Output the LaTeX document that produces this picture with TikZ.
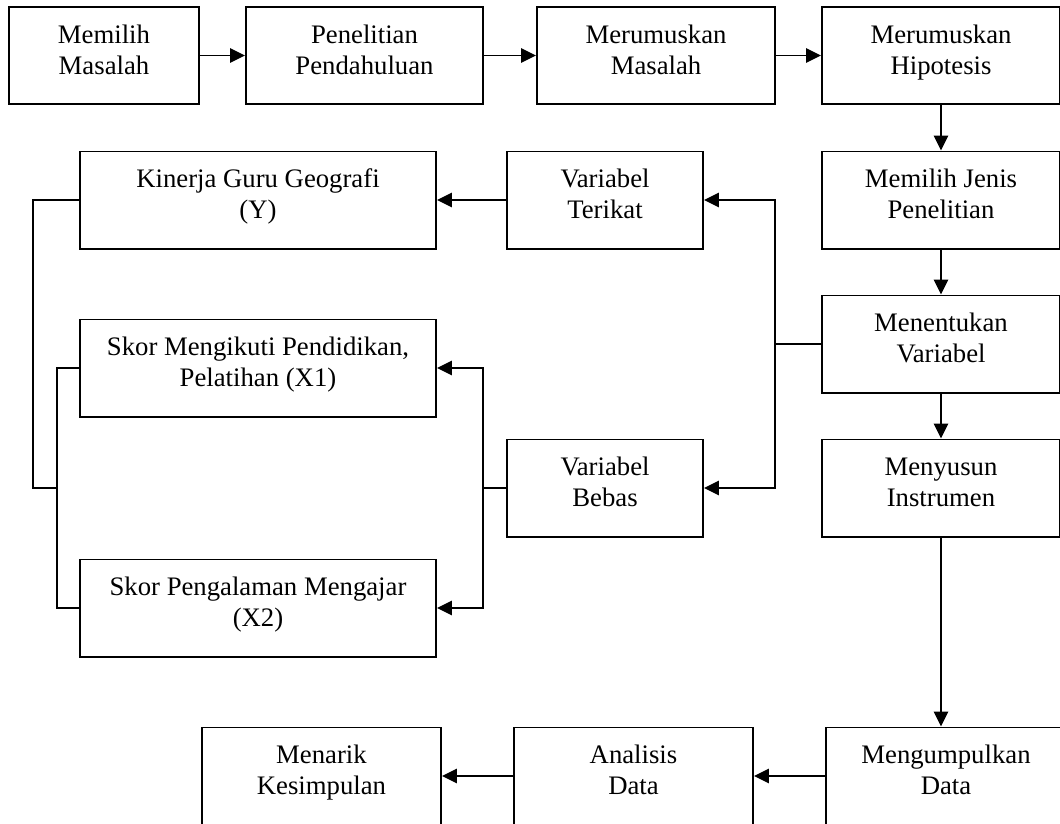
\documentclass[tikz,border=0pt]{standalone}
\usepackage{fontspec}
\setmainfont{Liberation Serif}
\usetikzlibrary{arrows.meta}

\begin{document}
\begin{tikzpicture}[x=0.025cm, y=-0.025cm,
  box/.style={draw, line width=1.4pt, align=center, inner sep=0pt,
    minimum height=2.425cm, text height=1.225cm, text depth=0.3cm,
    font=\fontsize{19}{22}\selectfont},
  wd/.style={minimum width=#1*0.025cm},
  lin/.style={line width=1pt},
  arr/.style={line width=1pt, -{Triangle[length=0.375cm, width=0.36cm]}}]
\clip (0,0) rectangle (1060,823);

% top row
\node[box, wd=190] (mm) at (104,55.5) {Memilih\\Masalah};
\node[box, wd=237] (pp) at (364.5,55.5) {Penelitian\\Pendahuluan};
\node[box, wd=238] (rm) at (656,55.5) {Merumuskan\\Masalah};
\node[box, wd=238] (rh) at (941,55.5) {Merumuskan\\Hipotesis};

% right column
\node[box, wd=238] (mj) at (941,200) {Memilih Jenis\\Penelitian};
\node[box, wd=238] (mv) at (941,344) {Menentukan\\Variabel};
\node[box, wd=238] (mi) at (941,488) {Menyusun\\Instrumen};
\node[box, wd=240] (md) at (946,776) {Mengumpulkan\\Data};

% variables
\node[box, wd=196] (vt) at (605,200) {Variabel\\Terikat};
\node[box, wd=196] (vb) at (605,488) {Variabel\\Bebas};
\node[box, wd=356] (ky) at (258,200) {Kinerja Guru Geografi\\(Y)};
\node[box, wd=356] (x1) at (258,368) {Skor Mengikuti Pendidikan,\\Pelatihan (X1)};
\node[box, wd=356] (x2) at (258,608) {Skor Pengalaman Mengajar\\(X2)};

% bottom row
\node[box, wd=239] (ad) at (633.5,776) {Analisis\\Data};
\node[box, wd=239] (mk) at (321.5,776) {Menarik\\Kesimpulan};

\draw[arr] (mm) -- (pp);
\draw[arr] (pp) -- (rm);
\draw[arr] (rm) -- (rh);
\draw[arr] (rh) -- (mj);
\draw[arr] (mj) -- (mv);
\draw[arr] (mv) -- (mi);
\draw[arr] (mi.south) -- (mi.south |- md.north);
\draw[arr] (md) -- (ad);
\draw[arr] (ad) -- (mk);

\coordinate (jv) at (775,344);
\draw[lin] (mv.west) -- (jv);
\draw[arr] (jv) |- (vt.east);
\draw[arr] (jv) |- (vb.east);
\draw[arr] (vt) -- (ky);

\coordinate (jb) at (483,488);
\draw[lin] (vb.west) -- (jb);
\draw[arr] (jb) |- (x1.east);
\draw[arr] (jb) |- (x2.east);

\coordinate (jy) at (33,200);
\coordinate (jx) at (57,488);
\draw[lin] (ky.west) -- (jy) |- (jx);
\draw[lin] (x1.west) -| (jx) |- (x2.west);
\end{tikzpicture}
\end{document}
